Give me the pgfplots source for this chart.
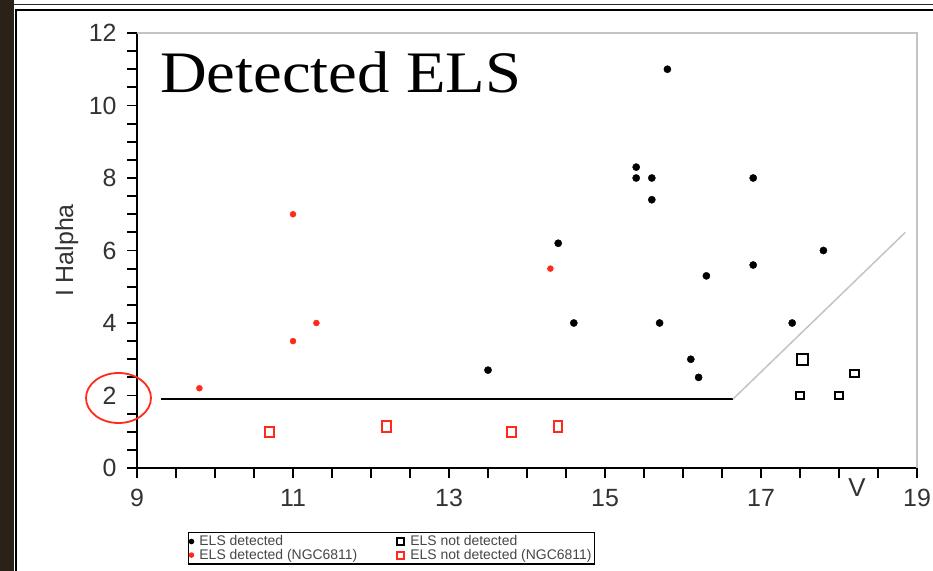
\documentclass[border=0pt]{standalone}
\usepackage{fontspec}
\setmainfont{Liberation Sans}
\newfontfamily\titleserif[FakeStretch=1.1]{Liberation Serif}
\usepackage{pgfplots}
\pgfplotsset{compat=1.18}
\definecolor{spacebg}{HTML}{2A2219}
\definecolor{elsred}{HTML}{FF2A1A}
\definecolor{threshgray}{HTML}{C4C4C4}

\pgfplotstableread{
x y
15.8 11.0
15.4 8.3
15.4 8.0
15.6 8.0
15.6 7.4
16.9 8.0
14.4 6.2
17.8 6.0
16.9 5.6
16.3 5.3
14.6 4.0
15.7 4.0
17.4 4.0
13.5 2.7
16.1 3.0
16.2 2.5
}\detblack

\pgfplotstableread{
x y
11.0 7.0
14.3 5.5
11.3 4.0
11.0 3.5
9.8 2.2
}\detred

\pgfplotstableread{
x y
17.5 2.0
18.0 2.0
18.2 2.6
}\nondetblack

\pgfplotstableread{
x y
10.7 1.0
12.2 1.15
13.8 1.0
14.4 1.15
}\nondetred

\begin{document}
\begin{tikzpicture}
\useasboundingbox (0,0) rectangle (933bp,571bp);
\fill[white] (0,0) rectangle (933bp,571bp);
\fill[spacebg] (0,0) rectangle (14bp,571bp);
\draw[black, line width=2bp] (16bp,0) -- (16bp,560.5bp) -- (933bp,560.5bp);
\draw[black!85, line width=1bp] (14bp,566bp) -- (933bp,566bp);
\begin{axis}[
  at={(137bp,103bp)}, anchor=south west,
  scale only axis, width=780bp, height=435bp,
  xmin=9, xmax=19, ymin=0, ymax=12,
  xtick={9,11,...,19}, ytick={0,2,...,12},
  minor x tick num=3, minor y tick num=3,
  tick align=outside,
  major tick length=10bp, minor tick length=10bp,
  every tick/.style={black, line width=1.8bp},
  axis x line*=bottom, axis y line*=left,
  axis line style={-, black, line width=2bp},
  /pgf/number format/assume math mode=true,
  ticklabel style={font=\fontsize{25}{25}\selectfont, text=black!80},
  xticklabel style={yshift=-8bp},
  yticklabel style={xshift=-7bp},
  ylabel={I Halpha},
  ylabel style={at={(axis description cs:-0.09,0.5)}, anchor=center, font=\fontsize{25}{25}\selectfont, text=black!80},
  xlabel={V},
  xlabel style={at={(axis description cs:0.923,-0.046)}, anchor=center, font=\fontsize{26}{26}\selectfont, text=black!80},
  legend columns=2,
  legend cell align=left,
  legend style={at={(axis description cs:0.065,-0.147)}, anchor=north west,
    draw=black, line width=1.5bp, inner sep=1bp, row sep=-2bp,
    font=\fontsize{14}{15}\selectfont, text=black!72,
    /tikz/every odd column/.append style={column sep=4bp},
    /tikz/every even column/.append style={column sep=38bp}},
  clip=false,
]
\draw[threshgray, line width=1.5bp] (rel axis cs:0,1) -- (rel axis cs:1,1) -- (rel axis cs:1,0);
\addplot[forget plot, black, line width=2.4bp] coordinates {(9.31,1.9) (16.64,1.9)};
\addplot[forget plot, threshgray, line width=1.5bp] coordinates {(16.64,1.9) (18.85,6.5)};

\addplot[only marks, mark=*, mark size=3.6bp, black, legend image post style={mark size=2bp}] table {\detblack};
\addlegendentry{ELS detected}
\addplot[only marks, mark=square, mark size=4.3bp, black, line width=2bp, mark options={yscale=0.8}, legend image post style={mark size=3.5bp, mark options={yscale=1}}] table {\nondetblack};
\addlegendentry{ELS not detected}
\addplot[only marks, mark=*, mark size=3bp, elsred, legend image post style={mark size=2bp}] table {\detred};
\addlegendentry{ELS detected (NGC6811)}
\addplot[only marks, mark=square, mark size=5.2bp, elsred, line width=2bp, mark options={xscale=0.8}, legend image post style={mark size=3.5bp, mark options={xscale=1}}] table {\nondetred};
\addlegendentry{ELS not detected (NGC6811)}
\addplot[forget plot, only marks, mark=square, mark size=5.5bp, black, line width=2.4bp] coordinates {(17.53,3.0)};
\end{axis}
\node[anchor=base west, inner sep=0] at (160bp,478bp) {\titleserif\fontsize{59}{60}\selectfont Detected ELS};
\draw[elsred, line width=1.8bp] (118.5bp,173bp) ellipse [x radius=32.5bp, y radius=25bp];
\end{tikzpicture}
\end{document}
